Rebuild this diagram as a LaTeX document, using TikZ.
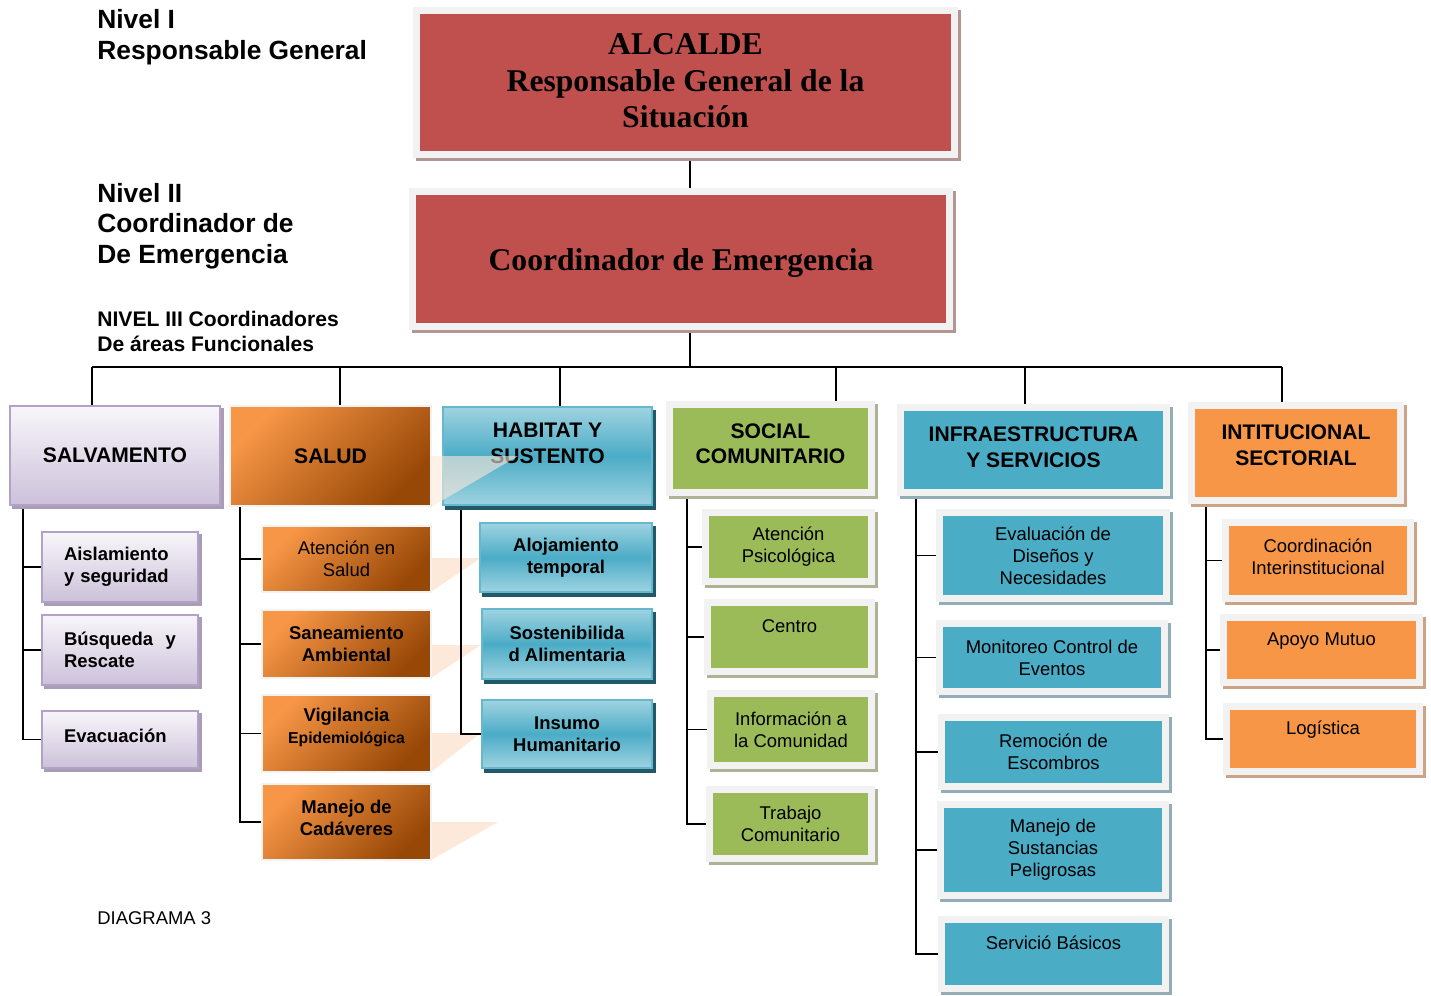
\documentclass[tikz,border=0pt]{standalone}
\usepackage{fontspec}
\setmainfont{Liberation Sans}
\newfontfamily\romana{Liberation Serif}
\usetikzlibrary{positioning, backgrounds}

\definecolor{rojo}{HTML}{C0504D}
\definecolor{rojosombra}{HTML}{B39594}
\definecolor{marcogris}{HTML}{F2F2F2}
\definecolor{verde}{HTML}{9BBB59}
\definecolor{verdesombra}{HTML}{AEB396}
\definecolor{azul}{HTML}{4BACC6}
\definecolor{azulclaro}{HTML}{9FD3E1}
\definecolor{azulsombra}{HTML}{93ADB7}
\definecolor{azuloscuro}{HTML}{215968}
\definecolor{naranja}{HTML}{F79646}
\definecolor{naranjaoscuro}{HTML}{974706}
\definecolor{naranjasombra}{HTML}{CCA385}
\definecolor{durazno}{HTML}{FDE9D9}
\definecolor{lila}{HTML}{CCC1DA}
\definecolor{lilaclaro}{HTML}{F8F6FA}
\definecolor{lilaborde}{HTML}{B3A2C7}
\definecolor{lilasombra}{HTML}{A89DB5}

\tikzstyle{linea} = [line width=1.1pt, black]

\begin{document}
\begin{tikzpicture}[x=0.2mm, y=-0.2mm,
    marco/.style={rectangle, draw=marcogris, line width=4pt, inner sep=0pt, align=center,
        preaction={draw=#1, fill=#1, line width=4pt, transform canvas={shift={(3,3)}}}},
    jefe/.style={marco=rojosombra, fill=rojo, font=\romana\bfseries\fontsize{18}{21}\selectfont},
    area/.style={font=\bfseries\fontsize{12}{14.6}\selectfont},
    sub/.style={font=\fontsize{10.5}{12.6}\selectfont},
    subn/.style={font=\bfseries\fontsize{10.5}{12.6}\selectfont},
    nivel/.style={anchor=west, align=left, inner sep=0pt},
    salva/.style={rectangle, draw=lilaborde, line width=1.2pt, top color=lilaclaro, bottom color=lila, inner sep=0pt,
        preaction={draw=lilasombra, fill=lilasombra, line width=1.2pt, transform canvas={shift={(3,3)}}}},
    salu/.style={rectangle, draw=marcogris, line width=1.1pt, top color=naranja, bottom color=naranjaoscuro, shading angle=45, inner sep=0pt, align=center},
    habi/.style={rectangle, draw=azul!85!white, line width=1.2pt, top color=azulclaro, bottom color=azulclaro, middle color=azul, inner sep=0pt, align=center,
        preaction={draw=azuloscuro, fill=azuloscuro, line width=1.2pt, transform canvas={shift={(3,4)}}}},
    verdebox/.style={marco=verdesombra, fill=verde},
    azulbox/.style={marco=azulsombra, fill=azul},
    naranjabox/.style={marco=naranjasombra, fill=naranja},
]
\useasboundingbox (0,0) rectangle (1431,996);

% Niveles
\node[nivel, font=\bfseries\fontsize{15}{17.6}\selectfont] (n1) at (97,37) {Nivel I\\Responsable General};
\node[nivel, font=\bfseries\fontsize{15}{17.3}\selectfont] (n2) at (97,226) {Nivel II\\Coordinador de\\De Emergencia};
\node[nivel, font=\bfseries\fontsize{12}{14.2}\selectfont] (n3) at (97,331) {NIVEL III Coordinadores\\De áreas Funcionales};
\node[nivel, font=\fontsize{10.5}{12.6}\selectfont] (diag) at (97,918) {DIAGRAMA 3};

% Nivel I y II
\node[jefe, minimum width=107.6mm, minimum height=28.8mm] (alcalde) at (685.5,82.5) {ALCALDE\\Responsable General de la\\Situación\\[-18.8pt]\mbox{}};
\node[jefe, minimum width=107.4mm, minimum height=27mm] (coord) at (681,259) {\mbox{}\\[-4pt]Coordinador de Emergencia};

% Nivel III
\node[salva, area, minimum width=42mm, minimum height=19.8mm] (salv) at (115,455.5) {SALVAMENTO};
\node[salu, area, minimum width=40.2mm, minimum height=20mm] (salud) at (330.5,456) {SALUD};
\node[habi, area, minimum width=41.8mm, minimum height=19.6mm] (habitat) at (547.5,456) {HABITAT Y\\SUSTENTO\\\mbox{}};
\node[verdebox, area, minimum width=40.4mm, minimum height=17.6mm] (social) at (770.5,448.5) {SOCIAL\\COMUNITARIO\\[-9pt]\mbox{}};
\node[azulbox, area, minimum width=53.2mm, minimum height=17mm] (infra) at (1033.5,450) {INFRAESTRUCTURA\\Y SERVICIOS\\[-11pt]\mbox{}};
\node[naranjabox, area, minimum width=41.8mm, minimum height=19mm] (inst) at (1296,453) {INTITUCIONAL\\SECTORIAL\\[-5.5pt]\mbox{}};

% reflejo sobre HABITAT
\fill[durazno, opacity=0.6] (431,456) -- (518,456) -- (431,507) -- cycle;

% Salvamento
\node[salva, subn, text width=22.4mm, align=left, minimum width=31.2mm, minimum height=14mm] (aisl) at (120,567) {Aislamiento\\y seguridad};
\node[salva, subn, text width=22.4mm, align=left, minimum width=31.2mm, minimum height=14mm] (busq) at (120,650) {Búsqueda\hfill y\\Rescate};
\node[salva, subn, text width=22.4mm, align=left, minimum width=31.2mm, minimum height=11.4mm] (evac) at (120,739.5) {Evacuación\\[-8pt]\mbox{}};

% Salud
\node[salu, sub, minimum width=33.8mm, minimum height=13.2mm] (aten) at (346.5,559) {Atención en\\Salud};
\node[salu, subn, minimum width=33.8mm, minimum height=13.6mm] (sane) at (346.5,644) {Saneamiento\\Ambiental};
\node[salu, subn, minimum width=33.8mm, minimum height=15.4mm] (vigi) at (346.5,733.5) {Vigilancia\\{\fontsize{9}{11}\selectfont Epidemiológica}\\[-4pt]\mbox{}};
\node[salu, subn, minimum width=33.8mm, minimum height=15.2mm] (mane) at (346.5,822) {Manejo de\\Cadáveres\\[-7.5pt]\mbox{}};

% Habitat
\node[habi, subn, minimum width=34.4mm, minimum height=13.8mm] (aloj) at (566,557.5) {Alojamiento\\temporal};
\node[habi, subn, minimum width=34mm, minimum height=14mm] (sost) at (567,644) {Sostenibilida\\d Alimentaria};
\node[habi, subn, minimum width=34mm, minimum height=13.6mm] (insu) at (567,734) {Insumo\\Humanitario};

% Social
\node[verdebox, sub, minimum width=33.2mm, minimum height=13.8mm] (psico) at (788.5,547) {Atención\\Psicológica};
\node[verdebox, sub, minimum width=32.8mm, minimum height=13.8mm] (centro) at (789.5,637) {Centro\\\mbox{}};
\node[verdebox, sub, minimum width=32.2mm, minimum height=14.4mm] (info) at (791,729.5) {Información a\\la Comunidad};
\node[verdebox, sub, minimum width=32.4mm, minimum height=13.8mm] (trab) at (790.5,824) {Trabajo\\Comunitario};

% Infraestructura
\node[azulbox, sub, minimum width=45.4mm, minimum height=17.2mm] (eval) at (1053,555.5) {Evaluación de\\Diseños y\\Necesidades};
\node[azulbox, sub, minimum width=45mm, minimum height=13.6mm] (moni) at (1052,657.5) {Monitoreo Control de\\Eventos};
\node[azulbox, sub, minimum width=44.8mm, minimum height=13.8mm] (remo) at (1053.5,752) {Remoción de\\Escombros};
\node[azulbox, sub, minimum width=45mm, minimum height=18.2mm] (sust) at (1053,850) {Manejo de\\Sustancias\\Peligrosas};
\node[azulbox, sub, minimum width=44.8mm, minimum height=13.8mm] (serv) at (1053.5,954) {Servició Básicos\\\mbox{}};

% Institucional
\node[naranjabox, sub, minimum width=37mm, minimum height=15.2mm] (coordi) at (1318,560.5) {Coordinación\\Interinstitucional\\[-8pt]\mbox{}};
\node[naranjabox, sub, minimum width=39.2mm, minimum height=13mm] (apoyo) at (1321.5,650) {Apoyo Mutuo\\\mbox{}};
\node[naranjabox, sub, minimum width=38.6mm, minimum height=13mm] (logi) at (1323,739) {Logística\\\mbox{}};

\begin{scope}[on background layer]
% reflejos de Salud
\fill[durazno] (432,558) -- (481,558) -- (432,591) -- cycle;
\fill[durazno] (431,645) -- (481,645) -- (431,678) -- cycle;
\fill[durazno] (431,733) -- (481,733) -- (431,772) -- cycle;
\fill[durazno] (431,822) -- (498,822) -- (431,860) -- cycle;

% Conectores
\coordinate (bus) at (690,367);
\draw[linea] (alcalde.south -| bus) -- (coord.north -| bus);
\draw[linea] (coord.south -| bus) -- (bus);
\foreach \nom/\x/\caja in {d1/92/salv, d2/340/salud, d3/560/habitat, d4/836/social, d5/1025/infra, d6/1282/inst}{
  \coordinate (\nom) at (\x,367);
  \draw[linea] (\nom) -- (\nom |- \caja.north);
}
\draw[linea] (d1) -- (d6);

\path (salv.south) ++(-92,0) coordinate (t1);
\foreach \hijo in {aisl, busq, evac} \draw[linea] (t1) |- (\hijo.west);
\path (salud.south) ++(-90.5,0) coordinate (t2);
\foreach \hijo in {aten, sane, vigi, mane} \draw[linea] (t2) |- (\hijo.west);
\path (habitat.south) ++(-86.5,0) coordinate (t3);
\draw[linea] (t3) |- (insu.west);
\path (social.south) ++(-83.5,0) coordinate (t4);
\foreach \hijo in {psico, centro, info, trab} \draw[linea] (t4) |- (\hijo.west);
\path (infra.south) ++(-117.5,0) coordinate (t5);
\foreach \hijo in {eval, moni, remo, sust, serv} \draw[linea] (t5) |- (\hijo.west);
\path (inst.south) ++(-90,0) coordinate (t6);
\foreach \hijo in {coordi, apoyo, logi} \draw[linea] (t6) |- (\hijo.west);
\end{scope}

\end{tikzpicture}
\end{document}
